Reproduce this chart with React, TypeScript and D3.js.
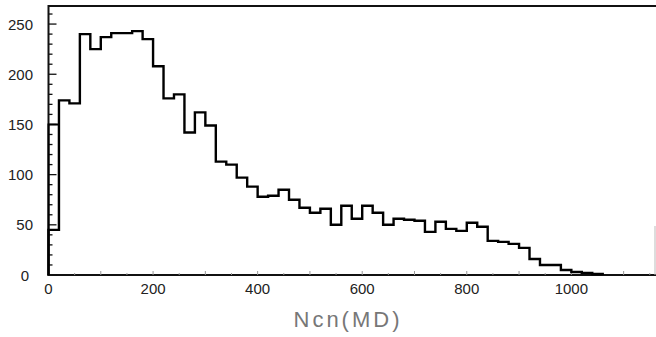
import React from "react";
import * as d3 from "d3";

const binWidth = 20;
const binStarts = [
  0, 20, 40, 60, 80, 100, 120, 140, 160, 180, 200, 220, 240, 260, 280, 300, 320, 340, 360, 380,
  400, 420, 440, 460, 480, 500, 520, 540, 560, 580, 600, 620, 640, 660, 680, 700, 720, 740, 760, 780,
  800, 820, 840, 860, 880, 900, 920, 940, 960, 980, 1000, 1020, 1040,
];
const counts = [
  45, 174, 171, 240, 225, 237, 241, 241, 243, 235, 208, 176, 180, 142, 162, 149, 113, 110, 97, 88,
  78, 79, 85, 75, 67, 62, 66, 50, 69, 56, 69, 62, 50, 56, 55, 54, 43, 53, 46, 44,
  52, 48, 34, 33, 31, 27, 16, 10, 10, 5, 3, 2, 1,
];
// overlay outline of the first bin
const overlayStarts = [0];
const overlayCounts = [150];

const xTickLabels = [0, 200, 400, 600, 800, 1000];
const yTickLabels = [0, 50, 100, 150, 200, 250];
const xTitle = "Ncn(MD)";

export default function App() {
  const W = 656;
  const H = 337;
  const x = d3.scaleLinear().domain([0, 1160]).range([48.5, 655]);
  const y = d3.scaleLinear().domain([0, 268]).range([275, 6]);

  const pts: [number, number][] = binStarts.map((b, i) => [b, counts[i]]);
  const last = binStarts[binStarts.length - 1] + binWidth;
  pts.push([last, counts[counts.length - 1]]);
  const line = d3
    .line<[number, number]>()
    .x((d) => x(d[0]))
    .y((d) => y(d[1]))
    .curve(d3.curveStepAfter);
  const histPath =
    `M${x(0)},${y(0)}L${x(0)},${y(counts[0])}` +
    line(pts)!.replace(/^M/, "L") +
    `L${x(last)},${y(0)}`;

  const overlayPaths = overlayStarts.map((b, i) =>
    `M${x(b)},${y(0)}L${x(b)},${y(overlayCounts[i])}L${x(b + binWidth)},${y(overlayCounts[i])}L${x(b + binWidth)},${y(counts[i])}`
  );

  const yMinor = d3.range(0, 261, 10);
  const xMinor = d3.range(0, 1151, 50);
  const font = "'Liberation Sans', Arial, sans-serif";

  return (
    <svg
      width={W}
      height={H}
      style={{ position: "absolute", left: 0, top: 0, background: "#fff" }}
    >
      {/* frame */}
      <line x1={x(0)} x2={W} y1={6} y2={6} stroke="#111" strokeWidth={2} />
      <line x1={x(0)} x2={x(0)} y1={5} y2={y(0) + 1} stroke="#111" strokeWidth={2} />
      <line x1={x(0) - 1} x2={W} y1={y(0)} y2={y(0)} stroke="#111" strokeWidth={2} />
      <line x1={655} x2={655} y1={226} y2={y(0)} stroke="#bbb" strokeWidth={1} />

      {/* y ticks */}
      {yMinor.map((v) => (
        <line
          key={"ym" + v}
          x1={x(0)}
          x2={x(0) + (v % 50 === 0 ? 8 : 4)}
          y1={y(v)}
          y2={y(v)}
          stroke="#111"
          strokeWidth={1.3}
        />
      ))}
      {/* x ticks */}
      {xMinor.map((v) => (
        <line
          key={"xm" + v}
          x1={x(v)}
          x2={x(v)}
          y1={y(0)}
          y2={y(0) - (v % 100 === 0 ? 4 : 2)}
          stroke="#999"
          strokeWidth={1}
        />
      ))}

      {/* histogram */}
      <path d={histPath} fill="none" stroke="#000" strokeWidth={2.4} strokeLinejoin="miter" />
      {overlayPaths.map((d, i) => (
        <path key={"ov" + i} d={d} fill="none" stroke="#000" strokeWidth={2} />
      ))}

      {/* labels */}
      {yTickLabels.map((v) => (
        <text
          key={"yl" + v}
          x={v === 0 ? 29 : 33}
          y={y(v) + 5.5}
          textAnchor="end"
          fontFamily={font}
          fontSize={15}
          fill="#222"
        >
          {v}
        </text>
      ))}
      {xTickLabels.map((v) => (
        <text
          key={"xl" + v}
          x={x(v)}
          y={294}
          textAnchor="middle"
          fontFamily={font}
          fontSize={15}
          fill="#222"
        >
          {v}
        </text>
      ))}
      <text
        x={348}
        y={327}
        textAnchor="middle"
        fontFamily={font}
        fontSize={22}
        letterSpacing={3}
        fill="#777"
      >
        {xTitle}
      </text>
    </svg>
  );
}
